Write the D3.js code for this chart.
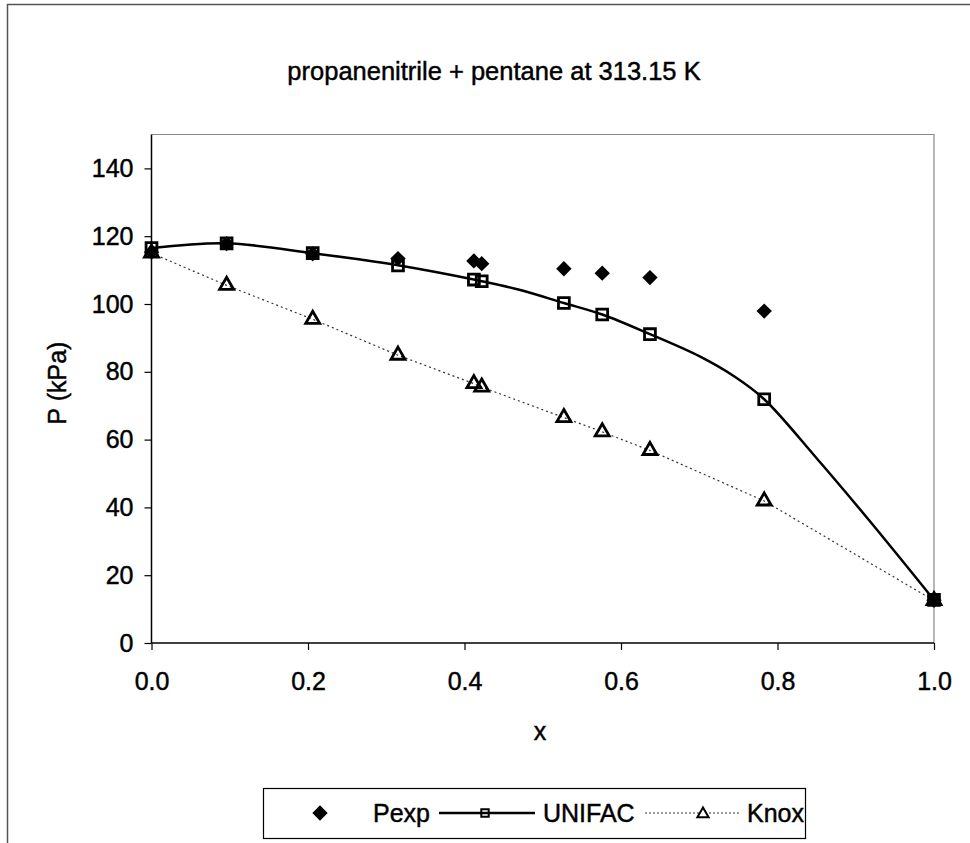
<!DOCTYPE html>
<meta charset="utf-8">
<script src="https://d3js.org/d3.v7.min.js"></script>
<style>
  body { margin: 0; background: #fff; }
  text { font-family: "Liberation Sans", Arial, sans-serif; fill: #000; stroke: #000; stroke-width: 0.45px; }
</style>
<div id="chart"></div>
<script>

// mole fraction x of the measured points
var xVals = [0, 0.096, 0.206, 0.315, 0.412, 0.422, 0.527, 0.576, 0.637, 0.783, 1.0];
// pressures (kPa)
var pexp   = [115.3, 117.8, 114.8, 113.4, 112.7, 111.9, 110.4, 109.1, 107.8, 97.9, 12.6];
var unifac = [116.5, 117.9, 115.0, 111.4, 107.2, 106.7, 100.3, 96.9, 91.1, 71.9, 12.7];
var knox   = [115.0, 105.5, 95.5, 84.9, 76.5, 75.5, 66.5, 62.3, 56.8, 41.9, 12.5];

// UNIFAC curve is drawn through a finer set of points (no markers)
var unifacCurveX = [0, 0.096, 0.206, 0.267, 0.315, 0.412, 0.422, 0.47, 0.527, 0.576, 0.637, 0.70, 0.745, 0.783, 0.85, 0.916, 1.0];
var unifacCurveP = [116.5, 117.9, 115.0, 113.1, 111.4, 107.2, 106.7, 104.2, 100.3, 96.9, 91.1, 84.6, 78.6, 71.9, 54.5, 36.5, 12.7];

var xTicks = [0, 0.2, 0.4, 0.6, 0.8, 1.0];
var yTicks = [0, 20, 40, 60, 80, 100, 120, 140];

var W = 970, H = 843;
var plot = {left: 151.5, right: 934, top: 134.5, bottom: 643};

var svg = d3.select("#chart").append("svg")
  .attr("width", W)
  .attr("height", H);

// outer chart frame (runs off the picture to the right and bottom)
svg.append("rect")
  .attr("x", 7.5).attr("y", 4.5)
  .attr("width", 1000).attr("height", 900)
  .attr("fill", "none")
  .attr("stroke", "#555")
  .attr("stroke-width", 1.5);

var x = d3.scaleLinear().domain([0, 1]).range([plot.left, plot.right]);
var y = d3.scaleLinear().domain([0, 150]).range([plot.bottom, plot.top]);

// plot area border, grey on top and right
svg.append("path")
  .attr("d", "M" + plot.left + "," + plot.top + "H" + plot.right + "V" + plot.bottom)
  .attr("fill", "none")
  .attr("stroke", "#888")
  .attr("stroke-width", 1.2);

// axes
var yAxis = svg.append("g")
  .attr("transform", "translate(" + plot.left + ",0)")
  .call(d3.axisLeft(y).tickValues(yTicks).tickSize(7).tickPadding(11).tickFormat(d3.format("d")));
var xAxis = svg.append("g")
  .attr("transform", "translate(0," + plot.bottom + ")")
  .call(d3.axisBottom(x).tickValues(xTicks).tickSize(7).tickPadding(22).tickFormat(d3.format(".1f")));

[yAxis, xAxis].forEach(function(g) {
  g.select(".domain").attr("stroke", "#000").attr("stroke-width", 1.5);
  g.selectAll(".tick line").attr("stroke", "#000").attr("stroke-width", 1.2);
  g.selectAll(".tick text")
    .style("font-family", "Liberation Sans, Arial, sans-serif")
    .style("font-size", "25px")
    .attr("fill", "#000");
});
// y axis line spans whole plot height
yAxis.select(".domain").attr("d", "M0," + plot.bottom + "V" + plot.top);
xAxis.select(".domain").attr("d", "M" + plot.left + ",0H" + plot.right);

// titles
svg.append("text")
  .attr("x", 494).attr("y", 80)
  .attr("text-anchor", "middle")
  .style("font-size", "25.5px")
  .text("propanenitrile + pentane at 313.15 K");

svg.append("text")
  .attr("transform", "translate(66,383) rotate(-90)")
  .attr("text-anchor", "middle")
  .style("font-size", "25px")
  .text("P (kPa)");

svg.append("text")
  .attr("x", 540).attr("y", 740)
  .attr("text-anchor", "middle")
  .style("font-size", "25px")
  .text("x");

// lines
var knoxLine = d3.line()
  .x(function(d, i) { return x(xVals[i]); })
  .y(function(d) { return y(d); });

svg.append("path")
  .datum(knox)
  .attr("d", knoxLine)
  .attr("fill", "none")
  .attr("stroke", "#333")
  .attr("stroke-width", 1.2)
  .attr("stroke-dasharray", "2,3");

var unifacLine = d3.line()
  .x(function(d, i) { return x(unifacCurveX[i]); })
  .y(function(d) { return y(d); })
  .curve(d3.curveCatmullRom);

svg.append("path")
  .datum(unifacCurveP)
  .attr("d", unifacLine)
  .attr("fill", "none")
  .attr("stroke", "#000")
  .attr("stroke-width", 2.5);

// markers
var diamond = d3.symbol().type(d3.symbolDiamond2).size(150);
var square = d3.symbol().type(d3.symbolSquare2).size(150);
var triangle = d3.symbol().type(d3.symbolTriangle2).size(140);

svg.append("g").selectAll("path")
  .data(knox)
  .enter().append("path")
    .attr("transform", function(d, i) { return "translate(" + x(xVals[i]) + "," + y(d) + ")"; })
    .attr("d", triangle)
    .attr("fill", "none")
    .attr("stroke", "#000")
    .attr("stroke-width", 2.8);

svg.append("g").selectAll("path")
  .data(unifac)
  .enter().append("path")
    .attr("transform", function(d, i) { return "translate(" + x(xVals[i]) + "," + y(d) + ")"; })
    .attr("d", square)
    .attr("fill", "none")
    .attr("stroke", "#000")
    .attr("stroke-width", 2.8);

svg.append("g").selectAll("path")
  .data(pexp)
  .enter().append("path")
    .attr("transform", function(d, i) { return "translate(" + x(xVals[i]) + "," + y(d) + ")"; })
    .attr("d", diamond)
    .attr("fill", "#000");

// legend
var lg = svg.append("g").attr("transform", "translate(263,788)");
lg.append("rect")
  .attr("x", 0.5).attr("y", 0.5)
  .attr("width", 542).attr("height", 50)
  .attr("fill", "#fff")
  .attr("stroke", "#000")
  .attr("stroke-width", 1.2);

var ly = 25;
lg.append("path").attr("transform", "translate(57," + ly + ")").attr("d", diamond).attr("fill", "#000");
lg.append("text").attr("x", 110).attr("y", ly + 9).style("font-size", "25px").text("Pexp");

lg.append("line").attr("x1", 176).attr("x2", 272).attr("y1", ly).attr("y2", ly)
  .attr("stroke", "#000").attr("stroke-width", 2.5);
lg.append("path").attr("transform", "translate(222," + ly + ")")
  .attr("d", d3.symbol().type(d3.symbolSquare2).size(70))
  .attr("fill", "none").attr("stroke", "#000").attr("stroke-width", 2);
lg.append("text").attr("x", 280).attr("y", ly + 9).style("font-size", "25px").text("UNIFAC");

lg.append("line").attr("x1", 382).attr("x2", 476).attr("y1", ly).attr("y2", ly)
  .attr("stroke", "#333").attr("stroke-width", 1.2).attr("stroke-dasharray", "2,2");
lg.append("path").attr("transform", "translate(440," + (ly + 1) + ")")
  .attr("d", d3.symbol().type(d3.symbolTriangle2).size(90))
  .attr("fill", "#fff").attr("stroke", "#000").attr("stroke-width", 2);
lg.append("text").attr("x", 484).attr("y", ly + 9).style("font-size", "25px").text("Knox");

</script>
